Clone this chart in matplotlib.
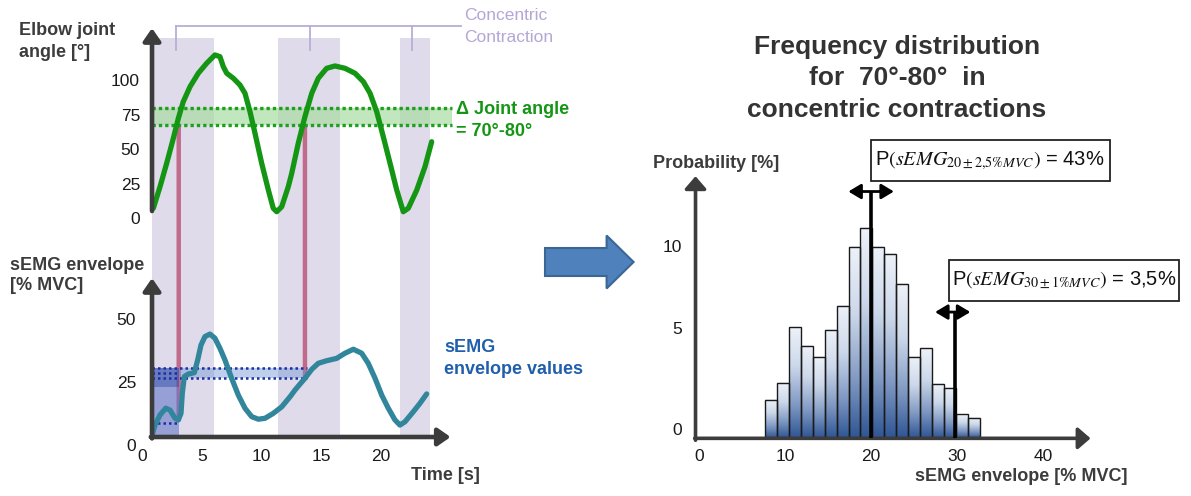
import matplotlib
matplotlib.use('Agg')
import matplotlib.pyplot as plt
import numpy as np
from matplotlib.patches import Rectangle, FancyArrow, ConnectionPatch
from matplotlib.colors import LinearSegmentedColormap

plt.rcParams['font.family'] = ['Liberation Sans', 'DejaVu Sans']
plt.rcParams['mathtext.fontset'] = 'stix'

# ---------------- data ----------------
time_angle = [1.16, 1.72, 2.28, 2.84, 3.26, 3.67, 4.24, 4.93, 5.64, 6.33, 6.75, 7.03,
              7.32, 7.87, 8.43, 8.85, 9.27, 9.69, 10.25, 10.81, 11.22, 11.51, 11.93,
              12.48, 12.77, 13.32, 13.88, 14.45, 15.0, 15.70, 16.40, 17.24, 18.08,
              18.78, 19.34, 19.90, 20.45, 21.02, 21.58, 22.13, 22.55, 23.26, 23.95, 24.51]
angle_deg = [8.5, 24.1, 41.1, 59.2, 73.7, 85.7, 96.6, 106.3, 113.6, 119.6, 118.3, 111.1,
             106.3, 102.7, 97.8, 91.8, 78.5, 62.8, 41.1, 21.7, 8.5, 6.0, 9.6,
             24.1, 33.8, 55.6, 74.9, 91.8, 102.7, 109.9, 111.6, 109.9, 106.3,
             100.2, 91.8, 78.5, 60.4, 41.1, 21.7, 6.0, 8.5, 21.7, 38.6, 56.7]

time_emg = [1.10, 1.30, 1.72, 2.20, 2.56, 2.98, 3.26, 3.48, 3.59, 3.76, 4.09, 4.60, 4.88,
            5.16, 5.49, 5.91, 6.33, 6.75, 7.17, 7.73, 8.29, 8.85, 9.41, 9.97, 10.53,
            11.22, 11.93, 12.63, 13.05, 13.88, 14.45, 15.0, 15.70, 16.54, 17.24, 17.94,
            18.64, 19.19, 19.76, 20.32, 20.87, 21.43, 21.85, 22.27, 22.97, 23.53, 24.09]
emg_mvc = [1.6, 5.1, 9.4, 12.3, 11.5, 8.0, 7.3, 10.1, 18.7, 25.8, 26.9, 27.5, 32.9,
           39.3, 42.9, 44.0, 42.2, 37.9, 32.9, 25.1, 17.9, 12.3, 8.7, 7.6, 8.0,
           10.1, 12.9, 17.2, 20.1, 25.1, 28.9, 31.5, 32.6, 33.6, 35.8, 37.5,
           35.8, 31.5, 25.1, 17.9, 12.3, 7.3, 5.1, 6.5, 10.8, 14.4, 18.4]

contraction_bands = [(1.05, 6.26), (11.6, 16.8), (21.85, 24.4)]
bracket_ticks = [3.1, 14.3, 22.9]
angle_window = (68.5, 81.5)
crossing_times = [3.29, 13.88]
crossing_emg = [7.3, 25.8]
emg_window = (25.3, 29.6)
emg_first = (6.1, 27.2)
emg_first_dark = 21.4

angle_ticks = [0, 25, 50, 75, 100]
emg_ticks = [0, 25, 50]
time_ticks = [0, 5, 10, 15, 20]

hist_edges = np.linspace(8.0, 33.0, 19)
hist_prob = [2.0, 2.9, 5.8, 4.85, 4.25, 5.65, 6.9, 10.0, 11.0, 10.0, 9.65, 8.05,
             4.25, 4.7, 2.85, 2.65, 1.25, 1.05]
marker_centers = [20.3, 30.1]
marker_heights = [12.9, 6.6]
marker_spans = [(17.7, 23.0), (27.8, 31.9)]
prob_ticks = [0, 5, 10]
env_ticks = [0, 10, 20, 30, 40]
prob_labels = [r'P$\left(sEMG_{20\pm2{,}5\%MVC}\right)$ = 43%',
               r'P$\left(sEMG_{30\pm1\%MVC}\right)$ = 3,5%']

# ---------------- styling ----------------
W, H = 1191, 496
fig = plt.figure(figsize=(W / 100, H / 100), dpi=100)
DARK = '#3c3c3c'
TICK = '#1a1a1a'
PURPLE = '#e0dbea'
GREEN = '#149614'
TEAL = '#31869b'
RED = '#c06a8c'


def px_axes(x0, x1, y0, y1, xlim, ylim, z):
    ax = fig.add_axes([x0 / W, 1 - y1 / H, (x1 - x0) / W, (y1 - y0) / H])
    ax.set_xlim(*xlim)
    ax.set_ylim(*ylim)
    ax.axis('off')
    ax.set_zorder(z)
    return ax


def arrow(ax, start, end, lw, hl, hw, color=DARK, style='-|>'):
    ax.annotate('', xy=end, xytext=start,
                arrowprops=dict(arrowstyle=f'{style},head_length={hl},head_width={hw}',
                                lw=lw, color=color, shrinkA=0, shrinkB=0,
                                mutation_scale=10),
                annotation_clip=False)


T_AX = 1.05
bg = px_axes(139.5, 473.26, 37.7, 437, (0, 28), (0, 1), 0)
top = px_axes(139.5, 473.26, 20, 232, (0, 28), (-8.7, 144.9), 2)
bot = px_axes(139.5, 473.26, 270, 460, (0, 28), (-9.83, 71.37), 2)
hist = px_axes(679.2, 1100, 132.2, 476.6, (-2, 47), (-2, 16), 2)
ov = px_axes(0, W, 0, H, (0, W), (H, 0), 3)

# contraction bands
for s, e in contraction_bands:
    bg.axvspan(s, e, color=PURPLE, lw=0)

# bracket
top.plot([bracket_ticks[0], 27.0], [140.8, 140.8], color='#b9add6', lw=1.3, clip_on=False)
for bt in bracket_ticks:
    top.plot([bt, bt], [140.8, 123.2], color='#b9add6', lw=1.3, clip_on=False)

# ---- top panel ----
top.fill_between([T_AX, 26.18], angle_window[0], angle_window[1], color='#a9dca2',
                 alpha=0.7, lw=0, zorder=1)
top.hlines(angle_window, T_AX, 26.18, colors='#1ea01e', linestyles=(0, (1, 0.9)),
           lw=2.4, zorder=2)
top.plot(time_angle, angle_deg, color=GREEN, lw=3.8, solid_capstyle='round',
         solid_joinstyle='round', zorder=3)
arrow(top, (T_AX, 6.5), (T_AX, 139.0), 3.3, 0.75, 0.52)
for v in angle_ticks:
    top.annotate(str(v), xy=(T_AX, v), xytext=(-12, 0), textcoords='offset pixels',
                 ha='right', va='center', fontsize=12.5, color=TICK)

# ---- bottom panel ----
bot.fill_between([T_AX, crossing_times[0]], 0, emg_first_dark, color='#6579ca', alpha=0.6,
                 lw=0, zorder=1)
bot.fill_between([T_AX, crossing_times[0]], emg_first_dark, emg_window[1], color='#3f59b3',
                 alpha=0.75, lw=0, zorder=1)
bot.fill_between([crossing_times[0], crossing_times[1]], emg_window[0], emg_window[1],
                 color='#6f95d5', alpha=0.45, lw=0, zorder=1)
bot.hlines(emg_window, T_AX, crossing_times[1] + 0.2, colors='#1b2fa0',
           linestyles=(0, (1, 1.2)), lw=1.8, zorder=2)
bot.hlines(emg_first, T_AX, crossing_times[0], colors='#1b2fa0',
           linestyles=(0, (1, 1.2)), lw=1.8, zorder=2)
bot.plot(time_emg, emg_mvc, color=TEAL, lw=3.8, solid_capstyle='round',
         solid_joinstyle='round', zorder=3)
arrow(bot, (T_AX, -0.6), (T_AX, 67.9), 3.3, 0.75, 0.52)
arrow(bot, (T_AX - 0.1, 0), (26.1, 0), 3.3, 0.75, 0.52)
emg_label_dy = [-9.7, -4.5, 0]
for v, dy in zip(emg_ticks, emg_label_dy):
    bot.annotate(str(v), xy=(T_AX, v), xytext=(-16, dy), textcoords='offset pixels',
                 ha='right', va='center', fontsize=12.5, color=TICK)
for t in time_ticks:
    bot.annotate(str(t), xy=(t, 0), xytext=(3, -19.7), textcoords='offset pixels',
                 ha='center', va='center', fontsize=12.5, color=TICK)

# red crossing lines
for t, v in zip(crossing_times, crossing_emg):
    con = ConnectionPatch(xyA=(t, angle_window[0]), coordsA=top.transData,
                          xyB=(t, v), coordsB=bot.transData, color=RED, lw=3.2,
                          zorder=1)
    fig.add_artist(con)

# ---- histogram ----
cmap = LinearSegmentedColormap.from_list('bar', [(0, '#2e5594'), (0.3, '#8099c3'),
                                                 (0.65, '#ccd8ea'), (1, '#eef2f9')])
grad = np.linspace(0, 1, 256).reshape(-1, 1)
for l, r, h in zip(hist_edges[:-1], hist_edges[1:], hist_prob):
    hist.imshow(grad, extent=(l, r, 0, h), cmap=cmap, aspect='auto', origin='lower',
                zorder=2, interpolation='bilinear')
    hist.add_patch(Rectangle((l, 0), r - l, h, fill=False, ec='#1a1a1a', lw=1.0, zorder=3))
hist.vlines(marker_centers, 0, marker_heights, color='black', lw=2.6, zorder=4)
for (a, b), h in zip(marker_spans, marker_heights):
    arrow(hist, (a, h), (b, h), 2.0, 0.75, 0.45, color='black', style='<|-|>')
arrow(hist, (-0.1, -0.1), (-0.1, 13.7), 2.6, 0.75, 0.65)
arrow(hist, (-0.2, 0), (45.9, 0), 2.6, 0.75, 0.65)
prob_label_dy = [8.3, 12.7, 0]
for v, dy in zip(prob_ticks, prob_label_dy):
    hist.annotate(str(v), xy=(-0.1, v), xytext=(-13.5, dy), textcoords='offset pixels',
                  ha='right', va='center', fontsize=12.5, color=TICK)
for x in env_ticks:
    hist.annotate(str(x), xy=(x, 0), xytext=(3, -18.4), textcoords='offset pixels',
                  ha='center', va='center', fontsize=12.5, color=TICK)
hist.set_xlim(-2, 47)
hist.set_ylim(-2, 16)

# ---- overlay texts ----
lab = dict(fontsize=13, fontweight='bold', color=DARK, va='center')
ov.text(19, 30.5, 'Elbow joint', ha='left', **lab)
ov.text(19, 52.5, 'angle [°]', ha='left', **lab)
ov.text(9.6, 265, 'sEMG envelope', ha='left', **lab)
ov.text(9.6, 285, '[% MVC]', ha='left', **lab)
ov.text(445, 475, 'Time [s]', ha='center', **lab)
ov.text(653, 163, 'Probability [%]', ha='left', **lab)
ov.text(1021, 476.7, 'sEMG envelope [% MVC]', ha='center', **lab)

ov.text(464, 16, 'Concentric', ha='left', va='center', fontsize=12.5, color='#b4a7d6')
ov.text(464, 38, 'Contraction', ha='left', va='center', fontsize=12.5, color='#b4a7d6')
ov.text(456, 110, 'Δ Joint angle', ha='left', va='center', fontsize=13,
        fontweight='bold', color=GREEN)
ov.text(456, 131.7, '= 70°-80°', ha='left', va='center', fontsize=13,
        fontweight='bold', color=GREEN)
ov.text(444, 348, 'sEMG', ha='left', va='center', fontsize=13, fontweight='bold',
        color='#1f5fab')
ov.text(444, 370, 'envelope values', ha='left', va='center', fontsize=13,
        fontweight='bold', color='#1f5fab')

for y, s in zip([46.7, 78.3, 110], ['Frequency distribution', 'for  70°-80°  in',
                                    'concentric contractions']):
    ov.text(897, y, s, ha='center', va='center', fontsize=19, fontweight='bold',
            color='#333333')

# probability boxes
boxes = [(870.5, 140, 239.3, 40.7), (949.2, 260, 230.2, 40.7)]
for (x, y, w, h), s in zip(boxes, prob_labels):
    ov.add_patch(Rectangle((x, y), w, h, fill=False, ec='#222222', lw=1.3))
    ov.text(x + w / 2, y + h / 2, s, ha='center', va='center', fontsize=14.5,
            color='#111111')

# big arrow
ov.add_patch(FancyArrow(545, 262, 88.6, 0, width=28, head_width=53, head_length=27,
                        length_includes_head=True, fc='#4f81bd', ec='#3a6795', lw=1.5))

fig.savefig('out.png', dpi=100)
